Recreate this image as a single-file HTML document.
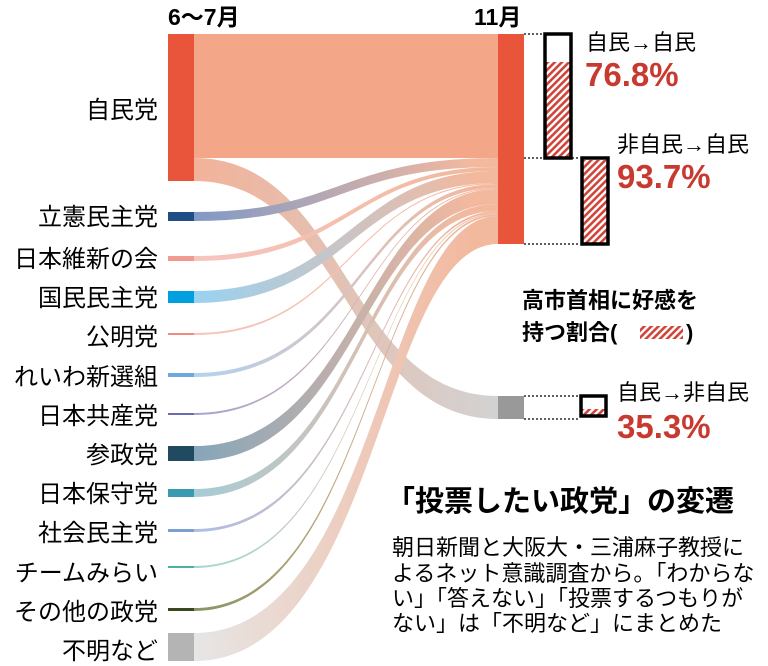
<!DOCTYPE html>
<html><head><meta charset="utf-8"><style>
body{margin:0;background:#fff;}
svg{display:block;font-family:"Liberation Sans","Noto Sans CJK JP",sans-serif;}
</style></head><body>
<svg width="768" height="666" viewBox="0 0 768 666" xmlns="http://www.w3.org/2000/svg">
<defs>
<pattern id="h" width="5" height="5" patternUnits="userSpaceOnUse" patternTransform="rotate(45)">
<rect width="5" height="5" fill="#fff"/><rect width="2.6" height="5" fill="#d0453a"/></pattern>
<linearGradient id="gg" gradientUnits="userSpaceOnUse" x1="194" x2="498" y1="0" y2="0"><stop offset="0" stop-color="#f0a080"/><stop offset="1" stop-color="#c8c8c8"/></linearGradient>
<linearGradient id="g1" gradientUnits="userSpaceOnUse" x1="194" x2="470"><stop offset="0" stop-color="#6080b8"/><stop offset="1" stop-color="#f0a888"/></linearGradient>
<linearGradient id="g2" gradientUnits="userSpaceOnUse" x1="194" x2="470"><stop offset="0" stop-color="#f4b8b0"/><stop offset="1" stop-color="#f0a888"/></linearGradient>
<linearGradient id="g3" gradientUnits="userSpaceOnUse" x1="194" x2="470"><stop offset="0" stop-color="#80c8ee"/><stop offset="1" stop-color="#f0a888"/></linearGradient>
<linearGradient id="g4" gradientUnits="userSpaceOnUse" x1="194" x2="470"><stop offset="0" stop-color="#a0c8ee"/><stop offset="1" stop-color="#f0a888"/></linearGradient>
<linearGradient id="g5" gradientUnits="userSpaceOnUse" x1="194" x2="470"><stop offset="0" stop-color="#9090c8"/><stop offset="1" stop-color="#f0a888"/></linearGradient>
<linearGradient id="g6" gradientUnits="userSpaceOnUse" x1="194" x2="470"><stop offset="0" stop-color="#6890a8"/><stop offset="1" stop-color="#f0a888"/></linearGradient>
<linearGradient id="g7" gradientUnits="userSpaceOnUse" x1="194" x2="470"><stop offset="0" stop-color="#90c0cc"/><stop offset="1" stop-color="#f0a888"/></linearGradient>
<linearGradient id="g8" gradientUnits="userSpaceOnUse" x1="194" x2="470"><stop offset="0" stop-color="#98b0e0"/><stop offset="1" stop-color="#f0a888"/></linearGradient>
<linearGradient id="g9" gradientUnits="userSpaceOnUse" x1="194" x2="470"><stop offset="0" stop-color="#90d0c8"/><stop offset="1" stop-color="#f0a888"/></linearGradient>
<linearGradient id="g10" gradientUnits="userSpaceOnUse" x1="194" x2="470"><stop offset="0" stop-color="#6a7a40"/><stop offset="1" stop-color="#f0a888"/></linearGradient>
<linearGradient id="g11" gradientUnits="userSpaceOnUse" x1="194" x2="470"><stop offset="0" stop-color="#e0e0e0"/><stop offset="1" stop-color="#f0a888"/></linearGradient>
</defs>
<text x="168" y="25" font-size="23" font-weight="bold">6～7月</text>
<text x="474" y="25" font-size="23" font-weight="bold">11月</text>
<rect x="194" y="34" width="304" height="124" fill="#f4a688"/>
<g opacity="0.8">
<path d="M194,158 C346,158 346,396 498,396 L498,419 C346,419 346,181 194,181 Z" fill="url(#gg)"/>
<path d="M194,633 C380,633 380,216 498,216 L498,244 C380,244 380,661 194,661 Z" fill="url(#g11)"/>
<path d="M194,608 C370,608 370,214 498,214 L498,216 C370,216 370,611 194,611 Z" fill="url(#g10)"/>
<path d="M194,566 C370,566 370,213 498,213 L498,214 C370,214 370,568 194,568 Z" fill="url(#g9)"/>
<path d="M194,529 C370,529 370,211 498,211 L498,213 C370,213 370,532 194,532 Z" fill="url(#g8)"/>
<path d="M194,489 C360,489 360,204 498,204 L498,211 C360,211 360,497 194,497 Z" fill="url(#g7)"/>
<path d="M194,446 C360,446 360,189 498,189 L498,204 C360,204 360,461 194,461 Z" fill="url(#g6)"/>
<path d="M194,413 C360,413 360,188 498,188 L498,189 C360,189 360,415 194,415 Z" fill="url(#g5)"/>
<path d="M194,373 C360,373 360,184 498,184 L498,188 C360,188 360,377 194,377 Z" fill="url(#g4)"/>
<path d="M194,333 C350,333 350,183 498,183 L498,184 C350,184 350,335 194,335 Z" fill="url(#g2)"/>
<path d="M194,291 C350,291 350,171 498,171 L498,183 C350,183 350,303 194,303 Z" fill="url(#g3)"/>
<path d="M194,256 C350,256 350,167 498,167 L498,171 C350,171 350,261 194,261 Z" fill="url(#g2)"/>
<path d="M194,212 C340,212 340,158 498,158 L498,167 C340,167 340,221 194,221 Z" fill="url(#g1)"/>
</g>
<rect x="168" y="34" width="26" height="147" fill="#e8553b"/>
<rect x="168" y="212" width="26" height="9" fill="#1f4e85"/>
<rect x="168" y="256" width="26" height="5" fill="#f09a90"/>
<rect x="168" y="291" width="26" height="12" fill="#00a0e0"/>
<rect x="168" y="333" width="26" height="2" fill="#f08a80"/>
<rect x="168" y="373" width="26" height="4" fill="#6fa8dc"/>
<rect x="168" y="413" width="26" height="2" fill="#6a6ab0"/>
<rect x="168" y="446" width="26" height="15" fill="#204a60"/>
<rect x="168" y="489" width="26" height="8" fill="#3a9ab0"/>
<rect x="168" y="529" width="26" height="3" fill="#7aa0d0"/>
<rect x="168" y="566" width="26" height="2" fill="#50b0a0"/>
<rect x="168" y="608" width="26" height="3" fill="#3a4a20"/>
<rect x="168" y="633" width="26" height="28" fill="#b4b4b4"/>
<rect x="498" y="34" width="26" height="210" fill="#e8553b"/>
<rect x="498" y="396" width="26" height="23" fill="#999"/>
<g stroke="#000" stroke-width="1.2" stroke-dasharray="2,2">
<line x1="524" y1="34" x2="543" y2="34"/><line x1="524" y1="158" x2="580" y2="158"/>
<line x1="524" y1="244" x2="580" y2="244"/><line x1="524" y1="396" x2="580" y2="396"/>
<line x1="524" y1="419" x2="580" y2="419"/></g>
<rect x="545" y="62" width="26" height="96" fill="url(#h)"/>
<rect x="545" y="34" width="26" height="124" fill="none" stroke="#000" stroke-width="3.5"/>
<rect x="582" y="160" width="26" height="84" fill="url(#h)"/>
<rect x="582" y="158" width="26" height="86" fill="none" stroke="#000" stroke-width="3.5"/>
<rect x="582" y="409" width="24" height="7" fill="url(#h)"/>
<rect x="581" y="396" width="25" height="20" fill="none" stroke="#000" stroke-width="3.5"/>
<g font-size="22">
<text x="586" y="50">自民→自民</text>
<text x="617" y="152">非自民→自民</text>
<text x="617" y="400">自民→非自民</text></g>
<g font-size="33" font-weight="bold" fill="#c83a30">
<text x="585" y="86">76.8%</text>
<text x="617" y="188">93.7%</text>
<text x="617" y="438">35.3%</text></g>
<g font-size="22" font-weight="bold">
<text x="522" y="308">高市首相に好感を</text>
<text x="522" y="340">持つ割合(</text>
<text x="686" y="340">)</text></g>
<rect x="640" y="326" width="43" height="13" fill="url(#h)"/>
<g font-size="24" text-anchor="end">
<text x="158" y="118">自民党</text>
<text x="158" y="225">立憲民主党</text>
<text x="158" y="267">日本維新の会</text>
<text x="158" y="306">国民民主党</text>
<text x="158" y="345">公明党</text>
<text x="158" y="385">れいわ新選組</text>
<text x="158" y="424">日本共産党</text>
<text x="158" y="463">参政党</text>
<text x="158" y="502">日本保守党</text>
<text x="158" y="541">社会民主党</text>
<text x="158" y="581">チームみらい</text>
<text x="158" y="620">その他の政党</text>
<text x="158" y="659">不明など</text></g>
<text x="386" y="511" font-size="29" font-weight="bold">「投票したい政党」の変遷</text>
<g font-size="22">
<text x="392" y="555">朝日新聞と大阪大・三浦麻子教授に</text>
<text x="392" y="581">よるネット意識調査から。「わからな</text>
<text x="392" y="606">い」「答えない」「投票するつもりが</text>
<text x="392" y="631">ない」は「不明など」にまとめた</text></g>
</svg>
</body></html>
